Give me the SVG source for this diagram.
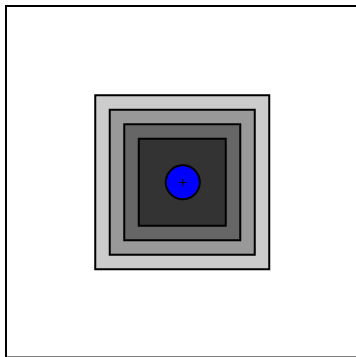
<svg xmlns="http://www.w3.org/2000/svg" width="356" height="357" viewBox="0 0 356 357">
<style>
.sq{stroke:#000;stroke-width:2}
</style>
<rect width="356" height="357" fill="#fff"/>
<g id="frame"><rect x="6" y="6" width="370" height="351.5" fill="none" stroke="#000" stroke-width="2"/></g>
<g id="square1"><rect class="sq" x="95.25" y="95.25" width="174" height="174" fill="#cccccc"/></g>
<g id="square2"><rect class="sq" x="109.75" y="109.75" width="145" height="145" fill="#999999"/></g>
<g id="square3"><rect class="sq" x="124.25" y="124.25" width="116" height="116" fill="#666666"/></g>
<g id="square4"><rect class="sq" x="138.75" y="138.75" width="87" height="87" fill="#333333"/></g>
<g id="target">
<circle cx="182.8" cy="182.2" r="17" fill="#0000ff" stroke="#000" stroke-width="2"/>
<path d="M179 182.5H186.5M182.8 178.7V186.2" stroke="#000" stroke-width="1"/>
</g>
</svg>
